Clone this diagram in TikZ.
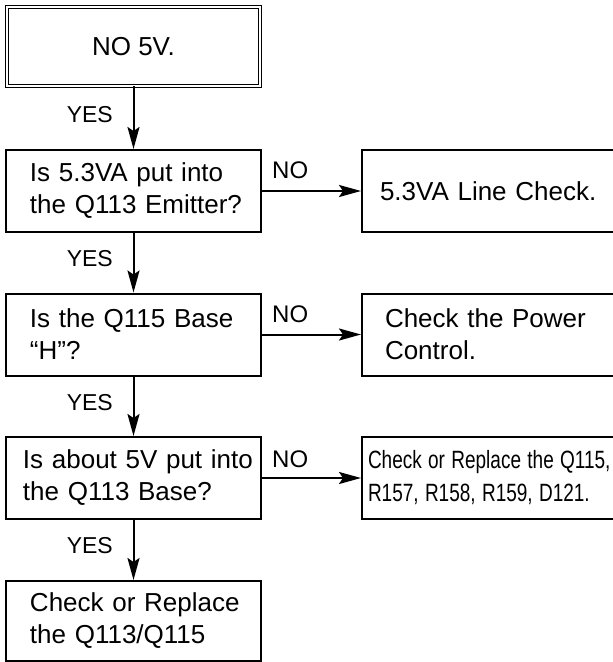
\documentclass[tikz,border=0pt]{standalone}
\usepackage{fontspec}
\usepackage{graphicx}
\setmainfont{Liberation Sans}
\usetikzlibrary{arrows.meta}
\newcommand{\narrowline}[1]{\scalebox{0.76}[1]{#1}}
\tikzset{
  fbox/.style={draw, line width=2pt, rectangle, minimum height=82pt, inner ysep=0pt,
    align=left, font=\fontsize{26}{32}\selectfont},
  startbox/.style={draw, line width=1.3pt, double, double distance=1.8pt,
    minimum width=252.6pt, minimum height=78.6pt, inner sep=0pt,
    font=\fontsize{26}{32}\selectfont},
  arr/.style={line width=2pt, -{Stealth[length=22pt,width=12pt,inset=4pt]}},
  yeslbl/.style={inner sep=0pt, anchor=base east, font=\fontsize{23}{28}\selectfont},
  nolbl/.style={inner sep=0pt, anchor=base west, font=\fontsize{24}{28}\selectfont},
}
\begin{document}
\begin{tikzpicture}[x=1pt,y=-1pt]
\useasboundingbox (0,0) rectangle (613,662);
\fill[white] (0,0) rectangle (613,662);
% left column
\node[startbox] (start) at (133.5,46.5) {NO 5V.};
\node[fbox, text width=207pt, inner xsep=24pt] (q1) at (133.5,191)
  {\mbox{Is 5.3VA put into}\\\mbox{the Q113 Emitter?}};
\node[fbox, text width=207pt, inner xsep=24pt] (q2) at (133.5,334.5)
  {\mbox{Is the Q115 Base}\\\mbox{“H”?}};
\node[fbox, text width=221pt, inner xsep=17pt] (q3) at (133.5,478)
  {\mbox{Is about 5V put into}\\\mbox{the Q113 Base?}};
\node[fbox, text width=207pt, inner xsep=24pt, minimum height=80pt] (fin) at (133.5,621)
  {\mbox{Check or Replace}\\\mbox{the Q113/Q115}};
% right column
\node[fbox, text width=218pt, inner xsep=18pt] (r1) at (489,191)
  {\mbox{5.3VA Line Check.}};
\node[fbox, text width=208pt, inner xsep=23pt] (r2) at (489,334.5)
  {\mbox{Check the Power}\\\mbox{Control.}};
\node[fbox, text width=242pt, inner xsep=6pt, font=\fontsize{25}{33}\selectfont] (r3) at (489,478)
  {\narrowline{Check or Replace the Q115,}\\\narrowline{R157, R158, R159, D121.}};
% connectors
\draw[arr] (start) -- (q1);
\draw[arr] (q1) -- (q2);
\draw[arr] (q2) -- (q3);
\draw[arr] (q3) -- (fin);
\draw[arr] (q1) -- (r1);
\draw[arr] (q2) -- (r2);
\draw[arr] (q3) -- (r3);
% labels
\node[yeslbl] (y1) at (113,122) {YES};
\node[yeslbl] (y2) at (113,266) {YES};
\node[yeslbl] (y3) at (113,410) {YES};
\node[yeslbl] (y4) at (113,553) {YES};
\node[nolbl] (n1) at (272,178) {NO};
\node[nolbl] (n2) at (272,322) {NO};
\node[nolbl] (n3) at (272,467) {NO};
\end{tikzpicture}
\end{document}
